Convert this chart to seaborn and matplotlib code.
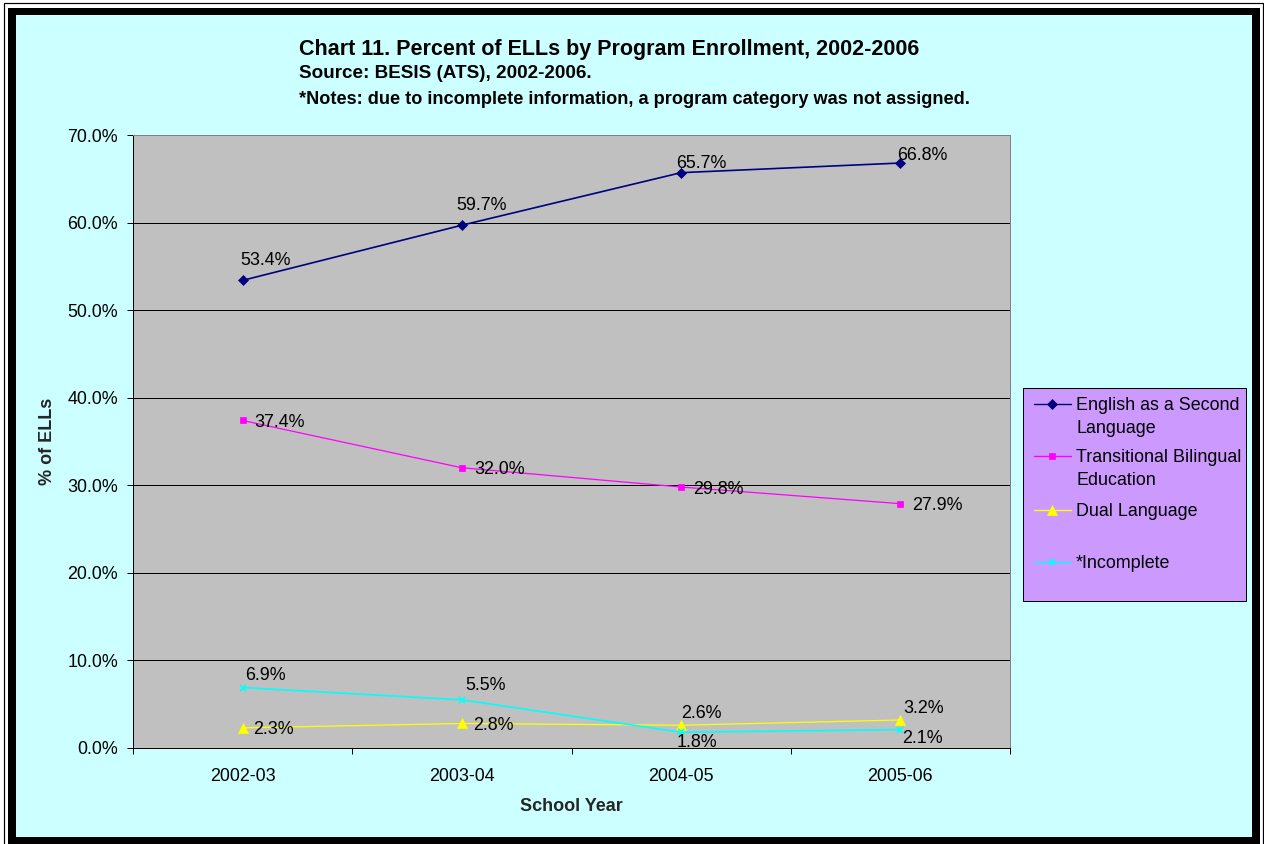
import matplotlib
matplotlib.use("Agg")
import matplotlib.pyplot as plt
from matplotlib.patches import Rectangle
from matplotlib.lines import Line2D
import seaborn as sns
import pandas as pd

# School years on the x axis
years = ["2002-03", "2003-04", "2004-05", "2005-06"]

# Percent of ELLs in each program
esl = [53.4, 59.7, 65.7, 66.8]
tbe = [37.4, 32.0, 29.8, 27.9]
dual = [2.3, 2.8, 2.6, 3.2]
incomplete = [6.9, 5.5, 1.8, 2.1]

series_names = ["English as a Second Language", "Transitional Bilingual Education",
                "Dual Language", "*Incomplete"]
legend_labels = ["English as a Second\nLanguage", "Transitional Bilingual\nEducation",
                 "Dual Language", "*Incomplete"]

yticks = [0, 10, 20, 30, 40, 50, 60, 70]

# Styling per series
colors = ["#000080", "#FF00FF", "#FFFF00", "#00FFFF"]
markers = ["D", "s", "^", "x"]
msizes = [5.0, 5.0, 6.5, 5.0]
lwidths = [1.2, 0.9, 0.9, 1.2]
# data-label offsets in pixels (dx to text left edge, dy to text center, upward)
label_offsets = [
    [(-2, 22), (-6, 22), (-5, 11), (-3, 10)],
    [(12, 0), (12, 0), (12, 0), (12, 0)],
    [(11, 0), (11, 0), (0, 14), (3, 13)],
    [(2, 14), (3, 16), (-4, -8), (2, -7)],
]

W, H = 1264, 844
DPI = 100
PX = 72.0 / DPI  # points per pixel
FS = 12.9        # body text size

df = pd.DataFrame({
    "year": years * 4,
    "value": esl + tbe + dual + incomplete,
    "series": sum([[n] * 4 for n in series_names], []),
})

sns.set_theme(style="white")
plt.rcParams["font.family"] = ["Liberation Sans", "DejaVu Sans"]

fig = plt.figure(figsize=(W / DPI, H / DPI), dpi=DPI)
fig.patch.set_facecolor("white")


def fx(x):
    return x / W


def fy(y):
    return 1 - y / H


# Frame: thin outer line, thick black band, light cyan chart area
fig.patches.append(Rectangle((fx(4), fy(850)), fx(1263) - fx(4), fy(3) - fy(850),
                             transform=fig.transFigure, fill=False,
                             edgecolor="black", linewidth=1.2 * PX, zorder=-3))
fig.patches.append(Rectangle((fx(8), fy(850)), fx(1260) - fx(8), fy(8) - fy(850),
                             transform=fig.transFigure, facecolor="black",
                             edgecolor="none", zorder=-3))
fig.patches.append(Rectangle((fx(16), fy(837)), fx(1252) - fx(16), fy(15) - fy(837),
                             transform=fig.transFigure, facecolor="#CCFFFF",
                             edgecolor="none", zorder=-2))

# Plot area
ax_l, ax_r, ax_t, ax_b = 133, 1010, 135, 748
ax = fig.add_axes([fx(ax_l), fy(ax_b), fx(ax_r) - fx(ax_l), fy(ax_t) - fy(ax_b)])
ax.set_zorder(1)
ax.set_facecolor("#C0C0C0")

for name, c, m, ms, lw in zip(series_names, colors, markers, msizes, lwidths):
    sub = df[df["series"] == name]
    sns.lineplot(data=sub, x="year", y="value", ax=ax, color=c, marker=m,
                 markersize=ms, linewidth=lw, markeredgecolor=c,
                 markeredgewidth=1.2 if m == "x" else 0.5, legend=False,
                 sort=False, zorder=3)

ax.set_xlim(-0.5, len(years) - 0.5)
ax.set_ylim(0, 70)
ax.set_yticks(yticks)
ax.set_yticklabels([f"{t:.1f}%" for t in yticks])
ax.set_xticks(range(len(years)))
ax.set_xticklabels(years)
ax.set_xticks([i - 0.5 for i in range(len(years) + 1)], minor=True)

for t in yticks[1:-1]:
    ax.axhline(t, color="black", linewidth=1.0 * PX, zorder=1)

for s in ["left", "bottom"]:
    ax.spines[s].set_color("black")
    ax.spines[s].set_linewidth(1.0 * PX)
for s in ["top", "right"]:
    ax.spines[s].set_color("#808080")
    ax.spines[s].set_linewidth(1.0 * PX)

ax.tick_params(axis="y", which="major", direction="out", length=6 * PX,
               width=1.0 * PX, color="black", labelsize=FS, pad=9 * PX,
               labelcolor="black", left=True)
ax.tick_params(axis="x", which="major", length=0, labelsize=FS, pad=20 * PX,
               labelcolor="black")
ax.tick_params(axis="x", which="minor", direction="out", length=6 * PX,
               width=1.0 * PX, color="black", bottom=True)

ax.set_xlabel("School Year", fontsize=13, fontweight="bold", labelpad=13 * PX)
ax.set_ylabel("% of ELLs", fontsize=13, fontweight="bold", labelpad=11 * PX)

# Data labels
for vals, offs in zip([esl, tbe, dual, incomplete], label_offsets):
    for i, (v, (dx, dy)) in enumerate(zip(vals, offs)):
        ax.annotate(f"{v:.1f}%", (i, v), xytext=(dx * PX, dy * PX),
                    textcoords="offset points", ha="left", va="center_baseline",
                    fontsize=FS, color="black", zorder=4)

# Title block
fig.text(fx(299), fy(50), "Chart 11. Percent of ELLs by Program Enrollment, 2002-2006",
         ha="left", va="center", fontsize=15.5, fontweight="bold", color="black")
fig.text(fx(299), fy(74), "Source: BESIS (ATS), 2002-2006.",
         ha="left", va="center", fontsize=13.6, fontweight="bold", color="black")
fig.text(fx(299), fy(99),
         "*Notes: due to incomplete information, a program category was not assigned.",
         ha="left", va="center", fontsize=13.1, fontweight="bold", color="black")

# Legend box
fig.patches.append(Rectangle((fx(1023), fy(601)), fx(1246) - fx(1023), fy(388) - fy(601),
                             transform=fig.transFigure, facecolor="#CC99FF",
                             edgecolor="black", linewidth=1.0 * PX, zorder=1))
legend_rows = [404, 456, 510, 562]
for lab, c, m, ms, y in zip(legend_labels, colors, markers, msizes, legend_rows):
    fig.lines.append(Line2D([fx(1034), fx(1071)], [fy(y), fy(y)],
                            transform=fig.transFigure, color=c, linewidth=1.0,
                            zorder=2))
    fig.lines.append(Line2D([fx(1052)], [fy(y)], transform=fig.transFigure,
                            color=c, marker=m, markersize=ms, markeredgecolor=c,
                            markeredgewidth=1.2 if m == "x" else 0.5, zorder=3))
    fig.text(fx(1076), fy(y - 7), lab, ha="left", va="top", fontsize=FS,
             color="black", linespacing=1.48, zorder=3)

fig.savefig("out.png", dpi=DPI, facecolor=fig.get_facecolor())
